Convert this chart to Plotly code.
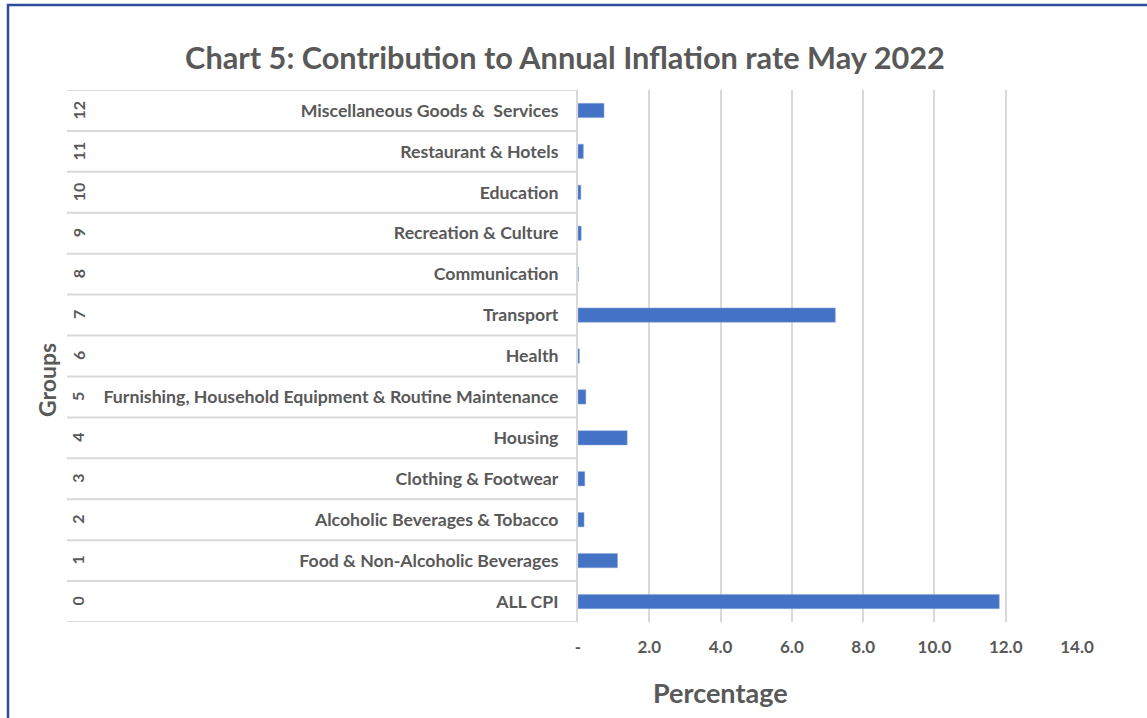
import plotly.graph_objects as go

# Chart data
group_numbers = ["0", "1", "2", "3", "4", "5", "6", "7", "8", "9", "10", "11", "12"]
group_names = [
    "ALL CPI",
    "Food & Non-Alcoholic Beverages",
    "Alcoholic Beverages & Tobacco",
    "Clothing & Footwear",
    "Housing",
    "Furnishing, Household Equipment & Routine Maintenance",
    "Health",
    "Transport",
    "Communication",
    "Recreation & Culture",
    "Education",
    "Restaurant & Hotels",
    "Miscellaneous Goods &  Services",
]
contribution = [11.82, 1.11, 0.17, 0.19, 1.38, 0.22, 0.04, 7.22, 0.01, 0.09, 0.08, 0.15, 0.73]
x_ticks = [0, 2, 4, 6, 8, 10, 12, 14]
x_tick_labels = ["-", "2.0", "4.0", "6.0", "8.0", "10.0", "12.0", "14.0"]

FONT = "Lato"
GREY = "#595959"
LINE = "#d9d9d9"

W, H = 1147, 718
L, R, T, B = 578, 70, 90, 96
plot_w = W - L - R
plot_h = H - T - B

def px_x(px):
    # absolute pixel x -> paper units of the plot area
    return (px - L) / plot_w

def px_y(py):
    # absolute pixel y (from top) -> paper units of the plot area
    return (H - B - py) / plot_h

fig = go.Figure(go.Bar(
    x=contribution, y=group_names, orientation="h",
    marker=dict(color="#4472C4", line=dict(color="#8EA9DB", width=0.5)),
    width=0.35,
))

shapes = []
# horizontal separators of the category table
for i in range(len(group_names) + 1):
    shapes.append(dict(type="line", xref="paper", yref="y",
                       x0=px_x(67), x1=0, y0=i - 0.5, y1=i - 0.5,
                       line=dict(color=LINE, width=2)))
# outer blue frame
shapes.append(dict(type="rect", xref="paper", yref="paper",
                   x0=px_x(8), x1=px_x(1170), y0=px_y(740), y1=px_y(5),
                   line=dict(color="#2E4A9A", width=2.5), layer="below"))

annotations = []
for num, name in zip(group_numbers, group_names):
    annotations.append(dict(x=px_x(78), y=name, xref="paper", yref="y",
                            xanchor="center", yanchor="middle",
                            text="<b>" + num + "</b>", textangle=-90, showarrow=False,
                            font=dict(family=FONT, size=16, color=GREY)))
annotations.append(dict(x=px_x(47), y=px_y(380), xref="paper", yref="paper",
                        xanchor="center", yanchor="middle",
                        text="<b>Groups</b>", textangle=-90, showarrow=False,
                        font=dict(family=FONT, size=23, color=GREY)))
annotations.append(dict(x=px_x(720), y=px_y(692), xref="paper", yref="paper",
                        xanchor="center", yanchor="middle",
                        text="<b>Percentage</b>", showarrow=False,
                        font=dict(family=FONT, size=27, color=GREY)))

fig.update_layout(
    width=W, height=H,
    margin=dict(l=L, r=R, t=T, b=B),
    paper_bgcolor="white", plot_bgcolor="white",
    showlegend=False,
    title=dict(text="<b>Chart 5: Contribution to Annual Inflation rate May 2022</b>",
               x=565 / W, xanchor="center", y=1 - 58 / H, yanchor="middle",
               font=dict(family=FONT, size=30.7, color=GREY)),
    shapes=shapes,
    annotations=annotations,
)
fig.update_xaxes(range=[0, 14], tickvals=x_ticks,
                 ticktext=["<b>" + t + "</b>" for t in x_tick_labels],
                 showgrid=True, gridcolor=LINE, gridwidth=2,
                 zeroline=False, showline=False, ticks="",
                 ticklabelstandoff=13,
                 tickfont=dict(family=FONT, size=17, color=GREY))
fig.update_yaxes(type="category", categoryorder="array", categoryarray=group_names,
                 range=[-0.5, len(group_names) - 0.5],
                 showgrid=False, showline=True, linecolor=LINE, linewidth=2,
                 ticks="", ticklabelstandoff=14,
                 tickvals=group_names, ticktext=["<b>" + n + "</b>" for n in group_names],
                 tickfont=dict(family=FONT, size=17.7, color=GREY))

fig.write_html("out.html", config={"displayModeBar": False},
               post_script="document.body.style.margin='0';")
